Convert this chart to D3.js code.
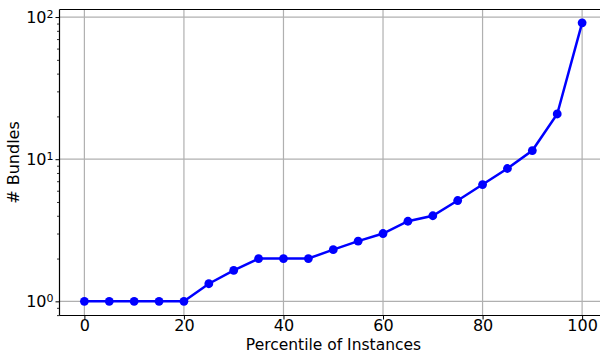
<!DOCTYPE html>
<html>
<head>
<meta charset="utf-8">
<script src="https://cdn.jsdelivr.net/npm/d3@7"></script>
<style>
  body { margin: 0; background: #fff; }
  text { font-family: "DejaVu Sans", sans-serif; fill: #000; }
</style>
</head>
<body>
<div id="chart"></div>
<script>
// percentiles of instances
var percentiles = [0, 5, 10, 15, 20, 25, 30, 35, 40, 45, 50, 55, 60, 65, 70, 75, 80, 85, 90, 95, 100];
// number of bundles at each percentile
var bundles = [1, 1, 1, 1, 1, 1.33, 1.65, 2, 2, 2, 2.31, 2.65, 3, 3.66, 4, 5.12, 6.63, 8.6, 11.5, 20.8, 91];
var xTicks = [0, 20, 40, 60, 80, 100];
var yTicks = [1, 10, 100];

draw_chart()

function draw_chart() {
    var margin = { top: 9.5, right: -7, bottom: 38.5, left: 59.5 },
        width = 600 - margin.left - margin.right,
        height = 354 - margin.top - margin.bottom;

    var svg = d3.select("#chart").append("svg")
        .attr("width", 600)
        .attr("height", 354)
        .append("g")
        .attr("transform", "translate(" + margin.left + "," + margin.top + ")");

    var x = d3.scaleLinear()
        .domain([-5, 105])
        .range([0, width]);
    var y = d3.scaleLog()
        .domain([0.795, 113])
        .range([height, 0]);

    // minor ticks for log axis
    var minor = [];
    [0.1, 1, 10, 100].forEach(function (dec) {
        for (var k = 2; k <= 9; k++) {
            var v = dec * k;
            if (v > y.domain()[0] && v < y.domain()[1]) minor.push(v);
        }
    });

    // grid
    svg.selectAll(".xgrid")
        .data(xTicks)
        .enter().append("line")
        .attr("x1", function (d) { return x(d); })
        .attr("x2", function (d) { return x(d); })
        .attr("y1", 0)
        .attr("y2", height)
        .attr("stroke", "#b0b0b0")
        .attr("stroke-width", 1.2);
    svg.selectAll(".ygrid")
        .data(yTicks)
        .enter().append("line")
        .attr("x1", 0)
        .attr("x2", width)
        .attr("y1", function (d) { return y(d); })
        .attr("y2", function (d) { return y(d); })
        .attr("stroke", "#b0b0b0")
        .attr("stroke-width", 1.2);

    // line
    var line = d3.line()
        .x(function (d, i) { return x(percentiles[i]); })
        .y(function (d) { return y(d); });
    svg.append("path")
        .datum(bundles)
        .attr("d", line)
        .attr("fill", "none")
        .attr("stroke", "#0000ff")
        .attr("stroke-width", 2.5);

    svg.selectAll(".dot")
        .data(bundles)
        .enter().append("circle")
        .attr("cx", function (d, i) { return x(percentiles[i]); })
        .attr("cy", function (d) { return y(d); })
        .attr("r", 4.4)
        .style("fill", "#0000ff");

    // x axis
    var xAxis = svg.append("g")
        .attr("transform", "translate(0," + height + ")")
        .call(d3.axisBottom(x).tickValues(xTicks).tickSize(4).tickPadding(0.5).tickFormat(d3.format("d")));
    xAxis.select(".domain").remove();
    xAxis.selectAll("line").attr("stroke", "#000").attr("stroke-width", 1);
    xAxis.selectAll("text").style("font-size", "16px").style("font-family", "DejaVu Sans");

    // y axis major
    var yAxis = svg.append("g")
        .call(d3.axisLeft(y).tickValues(yTicks).tickSize(4).tickPadding(4).tickFormat(""));
    yAxis.select(".domain").remove();
    yAxis.selectAll("line").attr("stroke", "#000").attr("stroke-width", 1);
    yAxis.selectAll(".tick").append("text")
        .attr("x", -6)
        .attr("dy", "0.35em")
        .attr("text-anchor", "end")
        .style("font-size", "16px")
        .each(function (d) {
            var t = d3.select(this);
            t.append("tspan").text("10");
            t.append("tspan")
                .attr("dy", "-0.5em")
                .style("font-size", "11px")
                .text(Math.round(Math.log10(d)));
        });

    // y axis minor
    var yMinor = svg.append("g")
        .call(d3.axisLeft(y).tickValues(minor).tickSize(2.5).tickFormat(""));
    yMinor.select(".domain").remove();
    yMinor.selectAll("line").attr("stroke", "#000").attr("stroke-width", 0.8);

    // spines
    svg.append("line").attr("x1", 0).attr("x2", 0).attr("y1", 0).attr("y2", height)
        .attr("stroke", "#000").attr("stroke-width", 1.2);
    svg.append("line").attr("x1", 0).attr("x2", width).attr("y1", height).attr("y2", height)
        .attr("stroke", "#000").attr("stroke-width", 1.2);
    svg.append("line").attr("x1", 0).attr("x2", width).attr("y1", 0).attr("y2", 0)
        .attr("stroke", "#000").attr("stroke-width", 1.2);

    // labels
    svg.append("text")
        .attr("x", 333.5 - margin.left)
        .attr("y", height + 34.5)
        .attr("text-anchor", "middle")
        .style("font-size", "15.5px")
        .text("Percentile of Instances");
    svg.append("text")
        .attr("transform", "translate(" + (-41) + "," + height / 2 + ")rotate(-90)")
        .attr("text-anchor", "middle")
        .style("font-size", "16px")
        .text("# Bundles");
}
</script>
</body>
</html>
